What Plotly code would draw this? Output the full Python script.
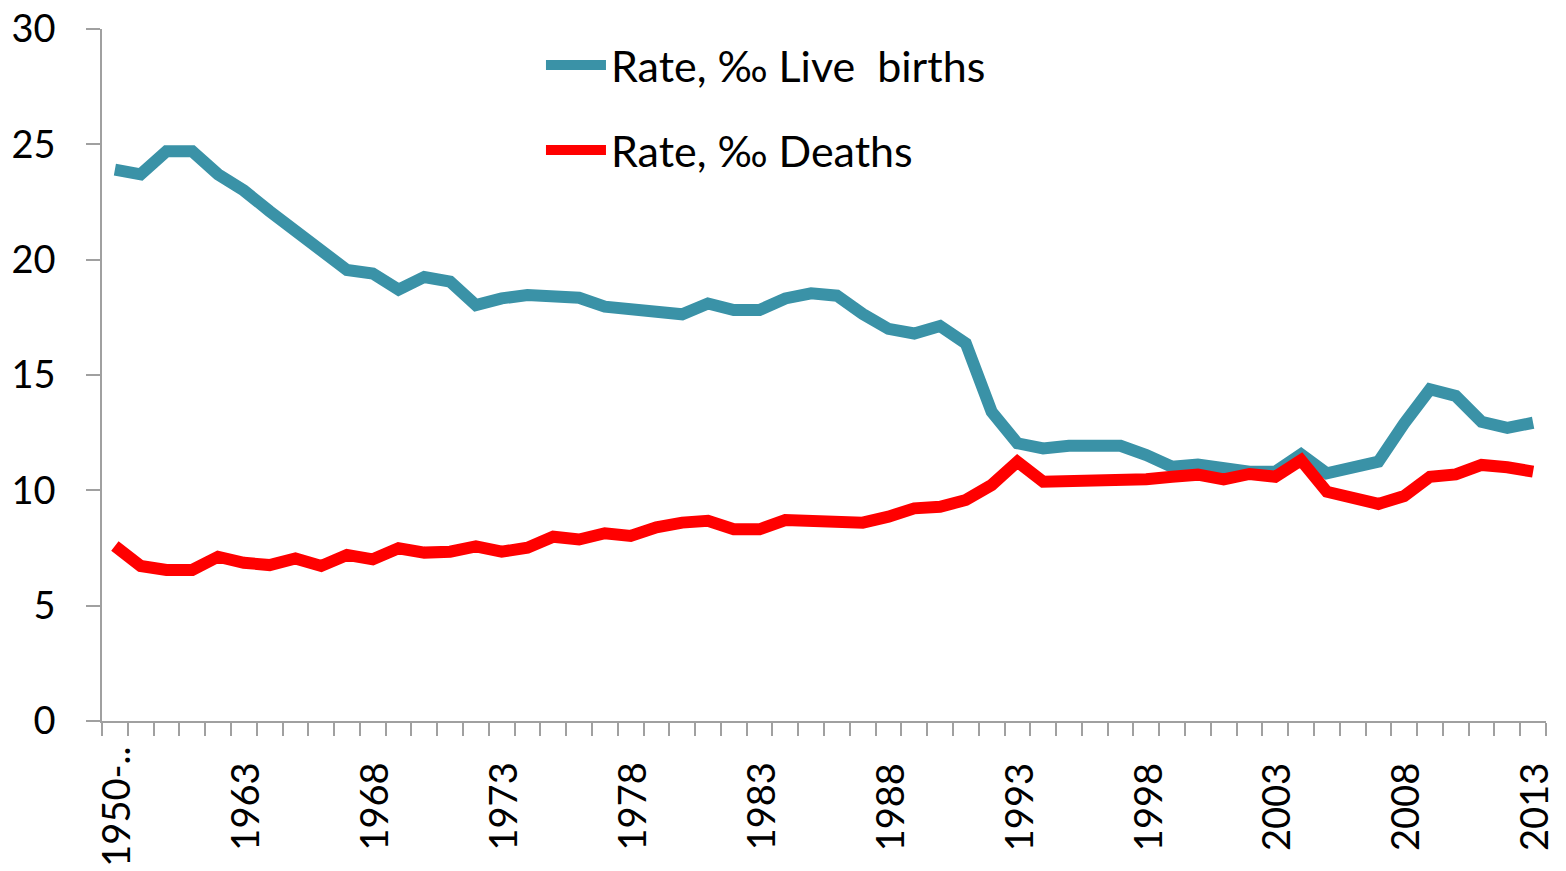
import plotly.graph_objects as go

categories = ["1950-..", "1959", "1960", "1961", "1962", "1963", "1964", "1965", "1966", "1967",
              "1968", "1969", "1970", "1971", "1972", "1973", "1974", "1975", "1976", "1977",
              "1978", "1979", "1980", "1981", "1982", "1983", "1984", "1985", "1986", "1987",
              "1988", "1989", "1990", "1991", "1992", "1993", "1994", "1995", "1996", "1997",
              "1998", "1999", "2000", "2001", "2002", "2003", "2004", "2005", "2006", "2007",
              "2008", "2009", "2010", "2011", "2012", "2013"]

births = [23.9, 23.7, 24.7, 24.7, 23.7, 23.0, 22.1, 21.3, 20.4, 19.55,
          19.4, 18.7, 19.25, 19.05, 18.03, 18.32, 18.47, 18.35, 18.35, 17.96,
          17.85, 17.85, 17.63, 18.1, 17.82, 17.82, 18.32, 18.54, 18.44, 17.65,
          17.0, 16.8, 17.12, 16.37, 13.41, 12.04, 11.82, 11.93, 11.93, 11.93,
          11.53, 11.02, 11.12, 10.98, 10.81, 10.81, 11.56, 10.74, 10.95, 11.24,
          12.9, 14.38, 14.09, 12.97, 12.71, 12.93]

deaths = [7.59, 6.72, 6.55, 6.55, 7.12, 6.86, 6.76, 7.05, 6.72, 7.2,
          7.01, 7.49, 7.3, 7.34, 7.57, 7.34, 7.51, 7.99, 7.87, 8.14,
          8.02, 8.4, 8.6, 8.68, 8.31, 8.31, 8.71, 8.71, 8.71, 8.6,
          8.86, 9.22, 9.29, 9.58, 10.23, 11.24, 10.37, 10.37, 10.37, 10.48,
          10.48, 10.59, 10.68, 10.47, 10.71, 10.59, 11.31, 9.94, 9.61, 9.41,
          9.75, 10.59, 10.69, 11.1, 11.0, 10.81]

tick_labels = ["1950-..", "1963", "1968", "1973", "1978", "1983", "1988", "1993",
               "1998", "2003", "2008", "2013"]

series_names = ["Rate, \u2030 Live  births", "Rate, \u2030 Deaths"]

FONT = "Lato"
AXIS_GREY = "#a0a0a0"

fig = go.Figure()
fig.add_trace(go.Scatter(x=categories, y=births, mode="lines", name=series_names[0],
                         line=dict(color="#3a92a7", width=12), legend="legend",
                         showlegend=True))
fig.add_trace(go.Scatter(x=categories, y=deaths, mode="lines", name=series_names[1],
                         line=dict(color="#ff0000", width=12), legend="legend2",
                         showlegend=True))

for lab in tick_labels:
    fig.add_annotation(x=categories.index(lab), y=-0.124, xref="x", yref="paper", text=lab,
                       textangle=-90, showarrow=False, xanchor="center", yanchor="middle",
                       font=dict(family=FONT, size=38, color="black"))

fig.update_layout(
    width=1566, height=871,
    margin=dict(l=102, r=20, t=29, b=150, autoexpand=False),
    paper_bgcolor="white", plot_bgcolor="white",
    showlegend=True,
    font=dict(family=FONT, size=38, color="black"),
    legend=dict(x=0.304, y=0.948, xanchor="left", yanchor="middle",
                bgcolor="rgba(0,0,0,0)", itemwidth=60,
                font=dict(family=FONT, size=43, color="black")),
    legend2=dict(x=0.304, y=0.825, xanchor="left", yanchor="middle",
                 bgcolor="rgba(0,0,0,0)", itemwidth=60,
                 font=dict(family=FONT, size=43, color="black")),
)

fig.update_xaxes(type="category", categoryorder="array", categoryarray=categories,
                 tickmode="array", tickvals=categories, ticktext=[""] * len(categories),
                 tickson="boundaries", ticks="outside", ticklen=13, tickwidth=1.5,
                 tickcolor=AXIS_GREY, showline=True, linecolor=AXIS_GREY, linewidth=1.5,
                 showgrid=False, zeroline=False, automargin=False,
                 range=[-0.5, len(categories) - 0.5])

fig.update_yaxes(range=[0, 30], tickmode="array", tickvals=[0, 5, 10, 15, 20, 25, 30],
                 ticktext=["0", "5", "10", "15", "20", "25", "30"],
                 ticks="outside", ticklen=14, tickwidth=1.5, tickcolor=AXIS_GREY,
                 showline=True, linecolor=AXIS_GREY, linewidth=1.5,
                 showgrid=False, zeroline=False, ticklabelstandoff=23, automargin=False,
                 tickfont=dict(family=FONT, size=38, color="black"))

fig.write_html("out.html", config={"displayModeBar": False},
               post_script="document.body.style.margin='0';")
